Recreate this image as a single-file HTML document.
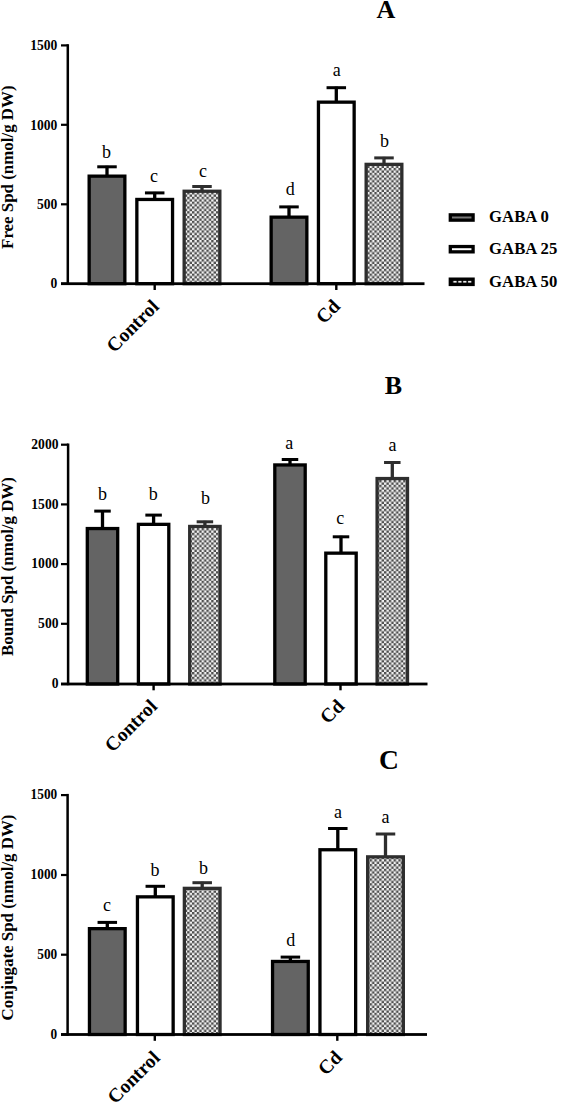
<!DOCTYPE html><html><head><meta charset="utf-8"><style>html,body{margin:0;padding:0;background:#fff;}svg{display:block;}text{font-family:"Liberation Serif",serif;}</style></head><body>
<svg width="561" height="1105" viewBox="0 0 561 1105">
<defs><pattern id="chk" patternUnits="userSpaceOnUse" width="4.8" height="4.8"><rect width="4.8" height="4.8" fill="#f2f2f2"/><rect width="2.4" height="2.4" fill="#4e4e4e"/><rect x="2.4" y="2.4" width="2.4" height="2.4" fill="#4e4e4e"/></pattern></defs>
<rect width="561" height="1105" fill="#fff"/>
<rect x="89.15" y="176.15" width="35.70" height="107.55" fill="#646464" stroke="#000" stroke-width="3.3"/>
<rect x="105.35" y="165.80" width="3.3" height="9.70" fill="#000"/>
<rect x="97.25" y="165.30" width="19.5" height="3" fill="#000"/>
<text x="106.60" y="157.50" font-size="18" text-anchor="middle">b</text>
<rect x="136.85" y="199.45" width="35.70" height="84.25" fill="#fff" stroke="#000" stroke-width="3.3"/>
<rect x="153.05" y="191.90" width="3.3" height="6.90" fill="#000"/>
<rect x="144.95" y="191.40" width="19.5" height="3" fill="#000"/>
<text x="154.10" y="181.90" font-size="18" text-anchor="middle">c</text>
<rect x="184.15" y="191.25" width="35.70" height="92.45" fill="url(#chk)" stroke="#2e2e2e" stroke-width="3.3"/>
<rect x="200.35" y="185.50" width="3.3" height="5.10" fill="#2e2e2e"/>
<rect x="192.25" y="185.00" width="19.5" height="3" fill="#2e2e2e"/>
<text x="203.00" y="177.10" font-size="18" text-anchor="middle">c</text>
<rect x="271.15" y="217.15" width="35.70" height="66.55" fill="#646464" stroke="#000" stroke-width="3.3"/>
<rect x="287.35" y="205.90" width="3.3" height="10.60" fill="#000"/>
<rect x="279.25" y="205.40" width="19.5" height="3" fill="#000"/>
<text x="290.20" y="195.40" font-size="18" text-anchor="middle">d</text>
<rect x="318.45" y="102.15" width="35.70" height="181.55" fill="#fff" stroke="#000" stroke-width="3.3"/>
<rect x="334.65" y="86.70" width="3.3" height="14.80" fill="#000"/>
<rect x="326.55" y="86.20" width="19.5" height="3" fill="#000"/>
<text x="336.70" y="75.50" font-size="18" text-anchor="middle">a</text>
<rect x="366.15" y="164.35" width="35.70" height="119.35" fill="url(#chk)" stroke="#2e2e2e" stroke-width="3.3"/>
<rect x="382.35" y="156.90" width="3.3" height="6.80" fill="#2e2e2e"/>
<rect x="374.25" y="156.40" width="19.5" height="3" fill="#2e2e2e"/>
<text x="384.50" y="146.70" font-size="18" text-anchor="middle">b</text>
<rect x="66.55" y="44.20" width="2.5" height="240.70" fill="#000"/>
<rect x="61" y="282.30" width="363.50" height="2.8" fill="#000"/>
<rect x="61" y="44.30" width="6.80" height="2.2" fill="#000"/>
<text transform="translate(57.3,50.10) scale(1,1.08)" font-size="13.6" font-weight="bold" text-anchor="end">1500</text>
<rect x="61" y="123.70" width="6.80" height="2.2" fill="#000"/>
<text transform="translate(57.3,129.50) scale(1,1.08)" font-size="13.6" font-weight="bold" text-anchor="end">1000</text>
<rect x="61" y="203.20" width="6.80" height="2.2" fill="#000"/>
<text transform="translate(57.3,209.00) scale(1,1.08)" font-size="13.6" font-weight="bold" text-anchor="end">500</text>
<rect x="61" y="282.60" width="6.80" height="2.2" fill="#000"/>
<text transform="translate(57.3,288.40) scale(1,1.08)" font-size="13.6" font-weight="bold" text-anchor="end">0</text>
<rect x="153.50" y="283.70" width="2.4" height="6.3" fill="#000"/>
<rect x="335.10" y="283.70" width="2.4" height="6.3" fill="#000"/>
<text transform="translate(160.00,307.70) rotate(-45)" font-size="19.5" font-weight="bold" text-anchor="end">Control</text>
<text transform="translate(341.30,307.20) rotate(-45)" font-size="19.5" font-weight="bold" text-anchor="end">Cd</text>
<text transform="translate(12.6,167.20) rotate(-90)" font-size="16.9" font-weight="bold" text-anchor="middle">Free Spd (nmol/g DW)</text>
<text x="386" y="18.4" font-size="26" font-weight="bold" text-anchor="middle">A</text>
<rect x="87.30" y="528.55" width="30.40" height="155.45" fill="#646464" stroke="#000" stroke-width="3.3"/>
<rect x="100.85" y="510.10" width="3.3" height="17.80" fill="#000"/>
<rect x="94.25" y="509.60" width="16.5" height="3" fill="#000"/>
<text x="102.50" y="500.00" font-size="18" text-anchor="middle">b</text>
<rect x="138.40" y="524.35" width="30.40" height="159.65" fill="#fff" stroke="#000" stroke-width="3.3"/>
<rect x="151.95" y="514.10" width="3.3" height="9.60" fill="#000"/>
<rect x="145.35" y="513.60" width="16.5" height="3" fill="#000"/>
<text x="153.20" y="500.00" font-size="18" text-anchor="middle">b</text>
<rect x="189.70" y="526.45" width="30.40" height="157.55" fill="url(#chk)" stroke="#2e2e2e" stroke-width="3.3"/>
<rect x="203.25" y="520.80" width="3.3" height="5.00" fill="#2e2e2e"/>
<rect x="196.65" y="520.30" width="16.5" height="3" fill="#2e2e2e"/>
<text x="205.40" y="504.20" font-size="18" text-anchor="middle">b</text>
<rect x="274.80" y="464.95" width="30.40" height="219.05" fill="#646464" stroke="#000" stroke-width="3.3"/>
<rect x="288.35" y="458.50" width="3.3" height="5.80" fill="#000"/>
<rect x="281.75" y="458.00" width="16.5" height="3" fill="#000"/>
<text x="289.30" y="448.70" font-size="18" text-anchor="middle">a</text>
<rect x="325.80" y="553.15" width="30.40" height="130.85" fill="#fff" stroke="#000" stroke-width="3.3"/>
<rect x="339.35" y="535.80" width="3.3" height="16.70" fill="#000"/>
<rect x="332.75" y="535.30" width="16.5" height="3" fill="#000"/>
<text x="340.20" y="524.40" font-size="18" text-anchor="middle">c</text>
<rect x="377.10" y="478.55" width="30.40" height="205.45" fill="url(#chk)" stroke="#2e2e2e" stroke-width="3.3"/>
<rect x="390.65" y="461.50" width="3.3" height="16.40" fill="#2e2e2e"/>
<rect x="384.05" y="461.00" width="16.5" height="3" fill="#2e2e2e"/>
<text x="392.60" y="451.20" font-size="18" text-anchor="middle">a</text>
<rect x="66.85" y="443.50" width="2.5" height="241.70" fill="#000"/>
<rect x="61" y="682.60" width="366.50" height="2.8" fill="#000"/>
<rect x="61" y="443.60" width="7.10" height="2.2" fill="#000"/>
<text transform="translate(58.5,449.00) scale(1,1.0)" font-size="13.6" font-weight="bold" text-anchor="end">2000</text>
<rect x="61" y="503.30" width="7.10" height="2.2" fill="#000"/>
<text transform="translate(58.5,508.70) scale(1,1.0)" font-size="13.6" font-weight="bold" text-anchor="end">1500</text>
<rect x="61" y="563.00" width="7.10" height="2.2" fill="#000"/>
<text transform="translate(58.5,568.40) scale(1,1.0)" font-size="13.6" font-weight="bold" text-anchor="end">1000</text>
<rect x="61" y="622.70" width="7.10" height="2.2" fill="#000"/>
<text transform="translate(58.5,628.10) scale(1,1.0)" font-size="13.6" font-weight="bold" text-anchor="end">500</text>
<rect x="61" y="682.90" width="7.10" height="2.2" fill="#000"/>
<text transform="translate(58.5,688.30) scale(1,1.0)" font-size="13.6" font-weight="bold" text-anchor="end">0</text>
<rect x="152.40" y="684.00" width="2.4" height="6.3" fill="#000"/>
<rect x="339.30" y="684.00" width="2.4" height="6.3" fill="#000"/>
<text transform="translate(158.30,707.30) rotate(-45)" font-size="19.5" font-weight="bold" text-anchor="end">Control</text>
<text transform="translate(345.50,707.20) rotate(-45)" font-size="19.5" font-weight="bold" text-anchor="end">Cd</text>
<text transform="translate(12.6,566.50) rotate(-90)" font-size="16.9" font-weight="bold" text-anchor="middle">Bound Spd (nmol/g DW)</text>
<text x="393.5" y="394.1" font-size="26" font-weight="bold" text-anchor="middle">B</text>
<rect x="89.45" y="928.65" width="35.70" height="105.85" fill="#646464" stroke="#000" stroke-width="3.3"/>
<rect x="105.65" y="921.40" width="3.3" height="6.60" fill="#000"/>
<rect x="97.55" y="920.90" width="19.5" height="3" fill="#000"/>
<text x="107.10" y="910.60" font-size="18" text-anchor="middle">c</text>
<rect x="137.45" y="896.85" width="35.70" height="137.65" fill="#fff" stroke="#000" stroke-width="3.3"/>
<rect x="153.65" y="885.30" width="3.3" height="10.90" fill="#000"/>
<rect x="145.55" y="884.80" width="19.5" height="3" fill="#000"/>
<text x="155.00" y="875.70" font-size="18" text-anchor="middle">b</text>
<rect x="184.35" y="888.35" width="35.70" height="146.15" fill="url(#chk)" stroke="#2e2e2e" stroke-width="3.3"/>
<rect x="200.55" y="881.70" width="3.3" height="6.00" fill="#2e2e2e"/>
<rect x="192.45" y="881.20" width="19.5" height="3" fill="#2e2e2e"/>
<text x="203.40" y="874.20" font-size="18" text-anchor="middle">b</text>
<rect x="272.55" y="961.45" width="35.70" height="73.05" fill="#646464" stroke="#000" stroke-width="3.3"/>
<rect x="288.75" y="956.10" width="3.3" height="4.70" fill="#000"/>
<rect x="280.65" y="955.60" width="19.5" height="3" fill="#000"/>
<text x="290.70" y="945.80" font-size="18" text-anchor="middle">d</text>
<rect x="319.95" y="849.75" width="35.70" height="184.75" fill="#fff" stroke="#000" stroke-width="3.3"/>
<rect x="336.15" y="827.50" width="3.3" height="21.60" fill="#000"/>
<rect x="328.05" y="827.00" width="19.5" height="3" fill="#000"/>
<text x="338.00" y="817.50" font-size="18" text-anchor="middle">a</text>
<rect x="367.65" y="856.85" width="35.70" height="177.65" fill="url(#chk)" stroke="#2e2e2e" stroke-width="3.3"/>
<rect x="383.85" y="833.00" width="3.3" height="23.20" fill="#2e2e2e"/>
<rect x="375.75" y="832.50" width="19.5" height="3" fill="#2e2e2e"/>
<text x="385.60" y="823.00" font-size="18" text-anchor="middle">a</text>
<rect x="66.35" y="793.90" width="2.5" height="241.80" fill="#000"/>
<rect x="61" y="1033.10" width="366.00" height="2.8" fill="#000"/>
<rect x="61" y="794.00" width="6.60" height="2.2" fill="#000"/>
<text transform="translate(57.2,799.40) scale(1,1.03)" font-size="13.3" font-weight="bold" text-anchor="end">1500</text>
<rect x="61" y="873.90" width="6.60" height="2.2" fill="#000"/>
<text transform="translate(57.2,879.30) scale(1,1.03)" font-size="13.3" font-weight="bold" text-anchor="end">1000</text>
<rect x="61" y="953.60" width="6.60" height="2.2" fill="#000"/>
<text transform="translate(57.2,959.00) scale(1,1.03)" font-size="13.3" font-weight="bold" text-anchor="end">500</text>
<rect x="61" y="1033.40" width="6.60" height="2.2" fill="#000"/>
<text transform="translate(57.2,1038.80) scale(1,1.03)" font-size="13.3" font-weight="bold" text-anchor="end">0</text>
<rect x="153.60" y="1034.50" width="2.4" height="6.3" fill="#000"/>
<rect x="336.10" y="1034.50" width="2.4" height="6.3" fill="#000"/>
<text transform="translate(161.00,1059.00) rotate(-45)" font-size="19.5" font-weight="bold" text-anchor="end">Control</text>
<text transform="translate(343.30,1058.50) rotate(-45)" font-size="19.5" font-weight="bold" text-anchor="end">Cd</text>
<text transform="translate(12.6,917.50) rotate(-90)" font-size="16.9" font-weight="bold" text-anchor="middle">Conjugate Spd (nmol/g DW)</text>
<text x="389" y="768.5" font-size="27.5" font-weight="bold" text-anchor="middle">C</text>
<rect x="450.3" y="214.85" width="22.8" height="5.3" fill="#777" stroke="#000" stroke-width="3.3"/>
<text x="489.1" y="222.20" font-size="16.7" font-weight="bold">GABA 0</text>
<rect x="450.3" y="246.55" width="22.8" height="5.3" fill="#fff" stroke="#000" stroke-width="3.3"/>
<text x="489.1" y="253.90" font-size="16.7" font-weight="bold">GABA 25</text>
<rect x="450.3" y="279.15" width="22.8" height="5.3" fill="#111" stroke="#000" stroke-width="3.3"/>
<text x="489.1" y="286.50" font-size="16.7" font-weight="bold">GABA 50</text>
<rect x="453.40" y="280.90" width="3.2" height="1.7" fill="#eee"/>
<rect x="458.30" y="280.90" width="3.2" height="1.7" fill="#eee"/>
<rect x="463.20" y="280.90" width="3.2" height="1.7" fill="#eee"/>
<rect x="468.10" y="280.90" width="3.2" height="1.7" fill="#eee"/>
</svg></body></html>
